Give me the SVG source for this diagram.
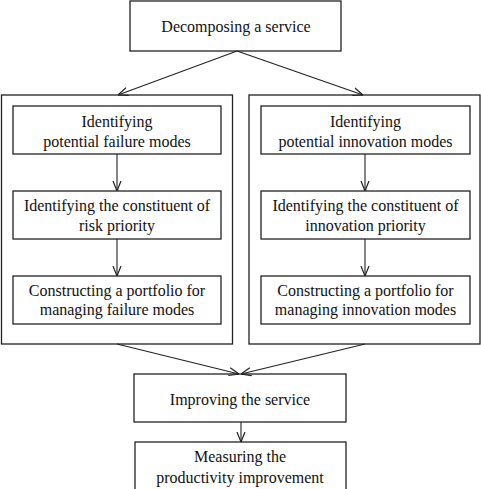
<svg xmlns="http://www.w3.org/2000/svg" width="481" height="489" viewBox="0 0 481 489">
<defs>
<style>
rect{fill:none;stroke:#222;stroke-width:1.3}
text{font-family:"Liberation Serif","Times New Roman",serif;font-size:16px;fill:#111;text-anchor:middle}
.c line{stroke:#222;stroke-width:1.1;marker-end:url(#ah)}
</style>
<marker id="ah" viewBox="0 0 10 10" refX="10" refY="5" markerWidth="10" markerHeight="10" markerUnits="userSpaceOnUse" orient="auto">
<path d="M0,1 L10,5 L0,9" fill="none" stroke="#222" stroke-width="1.2"/>
</marker>
</defs>
<rect x="0" y="0" width="481" height="489" style="fill:#fff;stroke:none"/>
<g id="top"><rect x="130" y="1" width="211" height="50"/><text x="236" y="32">Decomposing a service</text></g>
<g id="leftGroup"><rect x="1.5" y="95" width="231" height="249"/></g>
<g id="rightGroup"><rect x="249" y="95" width="231" height="249"/></g>
<g id="l1"><rect x="13" y="106" width="208" height="48"/><text x="117" y="127">Identifying</text><text x="117" y="147">potential failure modes</text></g>
<g id="l2"><rect x="13" y="191" width="208" height="48"/><text x="117" y="211">Identifying the constituent of</text><text x="117" y="231">risk priority</text></g>
<g id="l3"><rect x="13" y="276" width="208" height="48"/><text x="117" y="296">Constructing a portfolio for</text><text x="117" y="315">managing failure modes</text></g>
<g id="r1"><rect x="261" y="106" width="209" height="48"/><text x="365.5" y="127">Identifying</text><text x="365.5" y="147">potential innovation modes</text></g>
<g id="r2"><rect x="261" y="191" width="209" height="48"/><text x="365.5" y="211">Identifying the constituent of</text><text x="365.5" y="231">innovation priority</text></g>
<g id="r3"><rect x="261" y="276" width="209" height="48"/><text x="365.5" y="296">Constructing a portfolio for</text><text x="365.5" y="315">managing innovation modes</text></g>
<g id="improve"><rect x="134" y="374" width="212" height="48"/><text x="240" y="405">Improving the service</text></g>
<g id="measure"><rect x="135" y="442" width="211" height="60"/><text x="240" y="462">Measuring the</text><text x="240" y="483">productivity improvement</text></g>
<g class="c" id="connectors">
<line x1="237" y1="51" x2="118" y2="95"/>
<line x1="237" y1="51" x2="363" y2="95"/>
<line x1="117" y1="154" x2="117" y2="191"/>
<line x1="117" y1="239" x2="117" y2="276"/>
<line x1="365" y1="154" x2="365" y2="191"/>
<line x1="365" y1="239" x2="365" y2="276"/>
<line x1="117" y1="344" x2="239" y2="374"/>
<line x1="365" y1="344" x2="241" y2="374"/>
<line x1="241" y1="422" x2="241" y2="442"/>
</g>
</svg>
